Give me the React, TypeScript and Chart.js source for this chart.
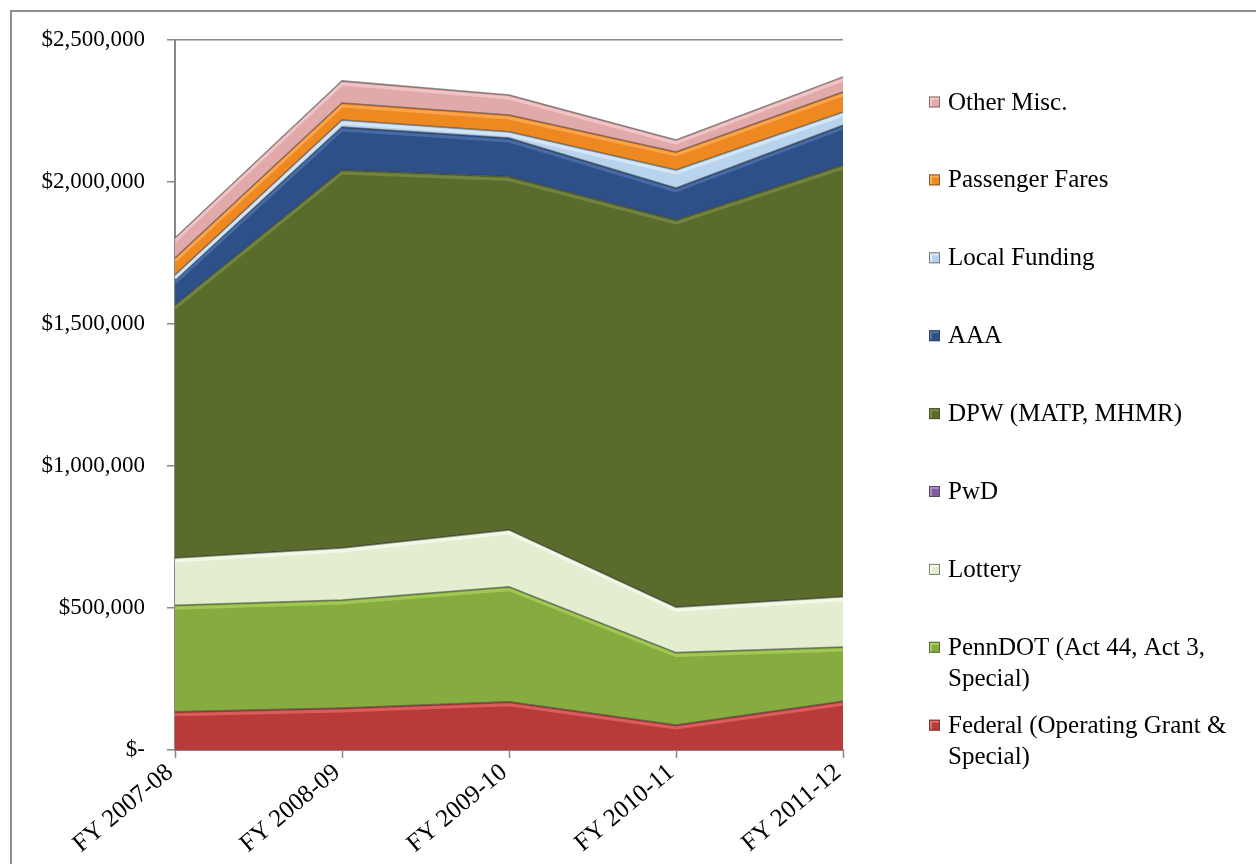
import React, { useEffect, useRef } from "react";
import { Chart, registerables } from "chart.js";

Chart.register(...registerables);

// Fiscal years on the category axis
const fiscalYears = ["FY 2007-08", "FY 2008-09", "FY 2009-10", "FY 2010-11", "FY 2011-12"];

// Revenue by source (dollars), stacked bottom to top
const federal = [135000, 148000, 170000, 88000, 172000];
const pennDot = [375000, 380000, 405000, 255000, 191000];
const lottery = [166000, 183000, 200000, 160000, 177000];
const pwd = [0, 0, 0, 0, 0];
const dpw = [891000, 1331000, 1244000, 1363000, 1520000];
const aaa = [88000, 152000, 136000, 113000, 140000];
const localFunding = [17000, 24000, 22000, 63000, 46000];
const passengerFares = [60000, 60000, 59000, 64000, 71000];
const otherMisc = [71000, 78000, 70000, 42000, 53000];

// Series names (legend text, "\n" marks a wrapped line)
const seriesNames = [
  "Federal (Operating Grant &\nSpecial)",
  "PennDOT (Act 44, Act 3,\nSpecial)",
  "Lottery",
  "PwD",
  "DPW (MATP, MHMR)",
  "AAA",
  "Local Funding",
  "Passenger Fares",
  "Other Misc.",
];
const seriesValues = [federal, pennDot, lottery, pwd, dpw, aaa, localFunding, passengerFares, otherMisc];

// Value axis range
const yMin = 0;
const yMax = 2500000;
const yStep = 500000;

// Fill, highlight and edge colours per series
const fillColors = ["#B73B39", "#86AB3F", "#E3EDCF", "#7D60A0", "#596C2C", "#2D5089", "#B8D3EE", "#EE8820", "#E2A9AB"];
const lightColors = ["#E36A67", "#A9D25C", "#F7FBEF", "#A68BC6", "#7A8E48", "#4E73AE", "#DCEBFA", "#FFAE5A", "#F4CDCE"];

const FONT = "'Liberation Serif', 'Times New Roman', serif";
const AXIS_GRAY = "#878787";

const bevelPlugin = {
  id: "bevelHighlight",
  afterDatasetsDraw(chart: any) {
    const { ctx, chartArea } = chart;
    ctx.save();
    ctx.beginPath();
    ctx.rect(chartArea.left, chartArea.top, chartArea.right - chartArea.left, chartArea.bottom - chartArea.top);
    ctx.clip();
    chart.data.datasets.forEach((ds: any, i: number) => {
      const vals = ds.data as number[];
      if (vals.every((v) => v === 0)) return;
      const meta = chart.getDatasetMeta(i);
      const pts = meta.data;
      ctx.beginPath();
      pts.forEach((p: any, j: number) => {
        if (j === 0) ctx.moveTo(p.x, p.y + 3);
        else ctx.lineTo(p.x, p.y + 3);
      });
      ctx.strokeStyle = lightColors[i];
      ctx.globalAlpha = 0.75;
      ctx.lineWidth = 3;
      ctx.lineJoin = "round";
      ctx.stroke();
      ctx.globalAlpha = 1;
    });
    ctx.restore();
  },
};

const legendPlugin = {
  id: "sideLegend",
  afterDraw(chart: any) {
    const { ctx } = chart;
    const n = chart.data.datasets.length;
    const markerX = 917;
    const textX = 936;
    const firstY = 91;
    const rowGap = 77.9;
    const lineGap = 31;
    ctx.save();
    ctx.font = `25px ${FONT}`;
    ctx.textBaseline = "middle";
    ctx.textAlign = "left";
    for (let k = 0; k < n; k++) {
      const i = n - 1 - k;
      const ds = chart.data.datasets[i];
      const y = firstY + k * rowGap;
      // bevelled marker
      const s = 11;
      const my = y - 1;
      ctx.fillStyle = fillColors[i];
      ctx.fillRect(markerX, my - s / 2, s, s);
      ctx.fillStyle = lightColors[i];
      ctx.fillRect(markerX + 1, my - s / 2 + 1, s - 2, 2);
      ctx.fillRect(markerX + 1, my - s / 2 + 1, 2, s - 2);
      ctx.strokeStyle = "rgba(60,60,60,0.6)";
      ctx.lineWidth = 1;
      ctx.strokeRect(markerX + 0.5, my - s / 2 + 0.5, s - 1, s - 1);
      ctx.fillStyle = "#000000";
      const lines = String(ds.label).split("\n");
      lines.forEach((ln, li) => ctx.fillText(ln, textX, y + li * lineGap));
    }
    ctx.restore();
  },
};

export default function App() {
  const canvasRef = useRef<HTMLCanvasElement | null>(null);

  useEffect(() => {
    if (!canvasRef.current) return;
    const datasets = seriesValues.map((vals, i) => ({
      label: seriesNames[i],
      data: vals,
      backgroundColor: fillColors[i],
      borderColor: "rgba(55,55,55,0.55)",
      borderWidth: 1.5,
      pointRadius: 0,
      pointHoverRadius: 0,
      tension: 0,
      fill: i === 0 ? "origin" : "-1",
    }));

    const chart = new Chart(canvasRef.current, {
      type: "line",
      data: { labels: fiscalYears, datasets },
      plugins: [bevelPlugin, legendPlugin],
      options: {
        animation: false,
        responsive: false,
        devicePixelRatio: 1,
        layout: { autoPadding: false, padding: { left: 0, top: 28, right: 425, bottom: 0 } },
        plugins: {
          legend: { display: false },
          tooltip: { enabled: false },
          title: { display: false },
        },
        scales: {
          x: {
            offset: false,
            afterFit: (scale: any) => {
              scale.height = 118;
              scale.paddingTop = 0;
              scale.paddingBottom = 0;
            },
            grid: {
              drawOnChartArea: false,
              drawTicks: true,
              tickLength: 8,
              tickColor: AXIS_GRAY,
              tickWidth: 1.5,
            },
            border: { display: true, color: AXIS_GRAY, width: 2 },
            ticks: {
              minRotation: 40,
              maxRotation: 40,
              autoSkip: false,
              padding: 0,
              labelOffset: -5,
              color: "#000000",
              font: { family: FONT, size: 25 },
            },
          },
          y: {
            stacked: true,
            min: yMin,
            max: yMax,
            afterFit: (scale: any) => {
              scale.width = 163;
              scale.paddingTop = 0;
              scale.paddingBottom = 0;
            },
            grid: {
              drawOnChartArea: true,
              color: (c: any) => (c.tick && c.tick.value === yMax ? AXIS_GRAY : "rgba(0,0,0,0)"),
              lineWidth: 1.5,
              tickLength: 8,
              tickColor: AXIS_GRAY,
              tickWidth: 1.5,
            },
            border: { display: true, color: AXIS_GRAY, width: 2 },
            ticks: {
              stepSize: yStep,
              padding: 22,
              color: "#000000",
              font: { family: FONT, size: 23 },
              callback: (v: any) => (Number(v) === 0 ? "$-" : "$" + Number(v).toLocaleString("en-US")),
            },
          },
        },
      },
    });
    return () => chart.destroy();
  }, []);

  return (
    <div
      style={{
        position: "fixed",
        left: 10,
        top: 10,
        width: 1260,
        height: 870,
        border: "2px solid #8E8E8E",
        boxSizing: "border-box",
        background: "#ffffff",
        overflow: "hidden",
      }}
    >
      <canvas ref={canvasRef} width={1256} height={856} style={{ display: "block", width: 1256, height: 856 }} />
    </div>
  );
}
